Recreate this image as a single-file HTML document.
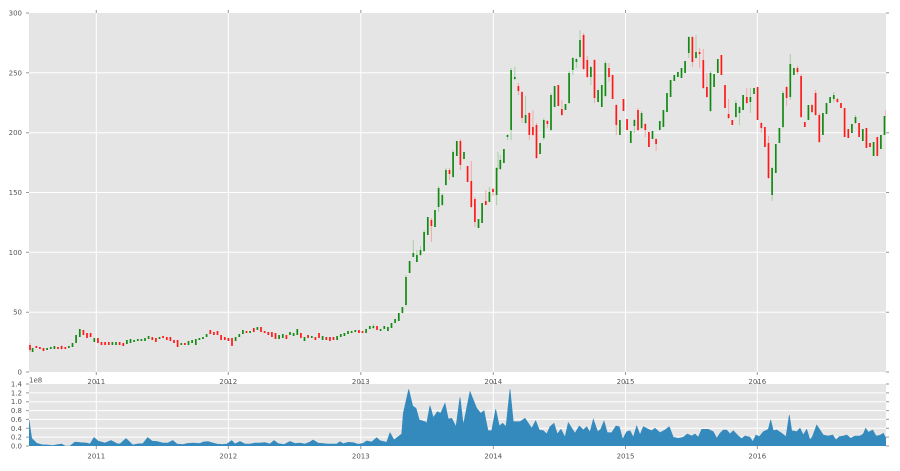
<!DOCTYPE html>
<html><head><meta charset="utf-8"><style>
html,body{margin:0;padding:0;background:#fff;}
svg{display:block;}
text{font-family:"DejaVu Sans","Liberation Sans",sans-serif;font-size:7px;fill:#555;}
</style></head><body>
<svg width="900" height="471" viewBox="0 0 900 471" xmlns="http://www.w3.org/2000/svg">
<defs>
<clipPath id="c1"><rect x="29" y="13" width="857" height="359"/></clipPath>
<clipPath id="c2"><rect x="29" y="384" width="857" height="62"/></clipPath>
</defs>
<rect x="0" y="0" width="900" height="471" fill="#fff"/>
<!-- main panel -->
<rect x="29" y="13" width="857" height="359" fill="#e5e5e5"/>
<g stroke="#fff" stroke-width="1">
<path d="M29 312.2H886M29 252.3H886M29 192.5H886M29 132.7H886M29 72.8H886"/>
<path d="M96.3 13V372M228.3 13V372M360.8 13V372M493.3 13V372M625.5 13V372M757.3 13V372"/>
</g>
<g clip-path="url(#c1)" fill="none">
<path stroke="#a6d0a6" stroke-width="1" d="M413.3 240V257M416.9 250V262M420.5 246V256M438.6 186V212M442.3 193V206M489.4 187V202M496.6 167V205M500.3 155V170M507.5 134V140M511.1 68V140M514.8 67V80M525.6 96V124M572.8 57V75M576.4 58V68M580 30V58M590.9 66V85M634.4 119V133M688.8 36V58M696 35V59M735.9 100V118M739.5 106V125M750.4 88V113M772.1 167V201M790.3 54V100M833.8 92V102M855.5 115V124M373.4 324V329M406 275V306M424.1 230V252M445.9 168V186M453.1 150V178M498 152V170M543.8 118V140M551 93V131M569.1 71V104M605.4 61V97M641.6 111V129M710.5 71V112M783 91V128"/>
<path stroke="#f5a8a8" stroke-width="1" d="M30 343V352M61.6 345V350M431.4 218V242M449.5 168V180M460.4 139V170M471.3 161V208M474.9 197V227M485.8 190V205M493 188V196M518.4 83V95M522 91V123M529.3 112V140M532.9 110V136M547.4 120V128M561.9 100V116M587.3 56V78M594.5 59V103M609 63V82M616.3 104V135M638 108V131M645.3 123V137M656.1 138V151M692.4 36V67M699.6 48V68M703.3 49V89M706.9 73V98M728.6 99V119M746.8 88V104M761.3 122V133M768.5 136V179M786.6 86V106M797.5 66V74M812 104V113M815.6 90V116M837.4 98V103M885.8 110V117M536.5 123V159M583.6 33V70M801.1 74V118M819.3 113V143"/>
<path stroke="#138a13" stroke-width="1.7" d="M32.6 348V352M47.1 348V350M50.8 347V349M54.4 346V349M68.9 346V348M72.5 343V347M76.1 335V343M79.8 329V337M94.3 338V342M112.4 342V345M116 342V345M126.9 340V344M130.5 339V343M134.1 340V342M137.8 339V341M141.4 339V341M145 338V341M148.6 336V339M159.5 337V339M181.3 343V345M188.5 341V345M192.1 340V343M195.8 339V345M199.4 338V340M203 337V339M206.6 334V337M235.6 337V341M239.3 334V337M242.9 330V334M250.1 331V333M257.4 327V330M279.1 335V339M282.8 334V338M290 332V335M293.6 333V336M297.3 329V335M304.5 337V341M311.8 336V338M322.6 336V340M337.1 336V340M340.8 334V337M344.4 333V336M348 331V334M351.6 331V333M355.3 330V332M366.1 329V333M369.8 326V329M373.4 326V328M380.6 329V331M384.3 326V329M387.9 327V331M391.5 323V328M395.1 319V323M398.8 313V321M402.4 307V313M406 277V305M409.6 261V273M413.3 253V257M416.9 255V262M420.5 250V255M424.1 232V251M427.8 217V235M435 210V227M438.6 188V207M442.3 195V205M445.9 170V185M453.1 152V177M456.8 141V156M464 152V159M478.5 219V228M482.1 203V223M489.4 192V202M496.6 168V195M500.3 160V169M503.9 149V163M507.5 135V137M511.1 70V130M514.8 77V79M525.6 115V123M540.1 143V154M543.8 120V138M551 95V130M554.6 86V107M565.5 104V110M569.1 73V103M572.8 58V70M576.4 59V62M580 40V57M590.9 67V77M598.1 90V102M601.8 85V107M605.4 63V96M619.9 120V135M630.8 131V143M634.4 120V126M641.6 113V128M652.5 131V139M659.8 121V130M663.4 110V127M667 93V112M670.6 80V97M674.3 75V81M677.9 72V77M681.5 68V78M685.1 61V73M688.8 37V53M696 52V58M710.5 73V111M714.1 74V87M717.8 59V73M735.9 103V117M739.5 107V113M743.1 95V110M750.4 97V102M754 88V94M772.1 168V195M775.8 144V173M779.4 128V143M783 93V127M790.3 64V97M793.9 68V75M808.4 105V120M822.9 113V135M826.5 103V114M830.1 97V103M833.8 95V99M851.9 124V133M855.5 117V123M862.8 129V141M873.6 142V156M880.9 135V149M884.5 116V135"/>
<path stroke="#ff1a1a" stroke-width="1.7" d="M30 345V350M36.3 346V348M39.9 347V349M43.5 348V351M58 347V349M61.6 346V349M65.3 347V349M83.4 330V335M87 333V338M90.6 333V337M97.9 338V343M101.5 342V345M105.1 342V345M108.8 342V345M119.6 342V345M123.3 343V346M152.3 337V340M155.9 338V342M163.1 336V338M166.8 337V340M170.4 337V341M174 340V343M177.6 340V347M184.9 343V345M210.3 330V334M213.9 332V335M217.5 331V335M221.1 335V340M224.8 337V340M228.4 338V341M232 338V346M246.5 331V333M253.8 328V332M261 327V332M264.6 331V333M268.3 332V335M271.9 332V337M275.5 333V339M286.4 335V339M300.9 333V338M308.1 335V338M315.4 337V340M319 333V338M326.3 337V340M329.9 337V341M333.5 337V340M358.9 330V333M362.5 331V333M377 326V330M431.4 220V226M449.5 170V174M460.4 141V165M467.6 166V182M471.3 181V207M474.9 199V222M485.8 201V205M493 189V192M518.4 86V91M522 92V118M529.3 113V135M532.9 127V135M536.5 125V158M547.4 121V124M558.3 85V106M561.9 109V115M583.6 35V69M587.3 60V77M594.5 60V98M609 68V77M612.6 75V99M616.3 105V125M623.5 99V111M627.1 119V130M638 110V130M645.3 124V130M648.9 132V147M656.1 139V144M692.4 37V62M699.6 52V54M703.3 60V88M706.9 87V97M721.4 55V75M725 85V108M728.6 114V118M732.3 120V125M746.8 97V103M757.6 87V120M761.3 123V128M764.9 127V147M768.5 143V178M786.6 87V98M797.5 68V72M801.1 76V117M804.8 122V127M812 105V112M815.6 93V115M819.3 115V142M837.4 99V102M841 103V108M844.6 108V137M848.3 129V138M859.1 123V137M866.4 128V148M870 143V147M877.3 137V156"/>
</g>
<!-- main ticks -->
<g stroke="#999" stroke-width="1">
<path d="M26 13H29M26 72.8H29M26 132.7H29M26 192.5H29M26 252.3H29M26 312.2H29M26 372H29"/>
<path d="M886 13H889M886 72.8H889M886 132.7H889M886 192.5H889M886 252.3H889M886 312.2H889M886 372H889"/>
<path d="M96.3 10V13M228.3 10V13M360.8 10V13M493.3 10V13M625.5 10V13M757.3 10V13"/>
<path d="M96.3 372V375M228.3 372V375M360.8 372V375M493.3 372V375M625.5 372V375M757.3 372V375"/>
</g>
<g text-anchor="end">
<text x="22" y="15.5">300</text>
<text x="22" y="75.3">250</text>
<text x="22" y="135.2">200</text>
<text x="22" y="195">150</text>
<text x="22" y="254.8">100</text>
<text x="22" y="314.7">50</text>
<text x="22" y="374.5">0</text>
</g>
<g text-anchor="middle">
<text x="96.3" y="384">2011</text>
<text x="228.3" y="384">2012</text>
<text x="360.8" y="384">2013</text>
<text x="493.3" y="384">2014</text>
<text x="625.5" y="384">2015</text>
<text x="757.3" y="384">2016</text>
</g>
<text x="29" y="382.5">1e8</text>
<!-- volume panel -->
<rect x="29" y="384" width="857" height="62" fill="#e5e5e5"/>
<g stroke="#fff" stroke-width="1">
<path d="M29 437.1H886M29 428.3H886M29 419.4H886M29 410.6H886M29 401.7H886M29 392.9H886"/>
<path d="M96.3 384V446M228.3 384V446M360.8 384V446M493.3 384V446M625.5 384V446M757.3 384V446"/>
</g>
<path clip-path="url(#c2)" fill="#348abd" stroke="#348abd" stroke-width="0.6" d="M29 446L29 420L31.7 438.3L36.7 443.3L42 444.8L48 445L53 445.5L58 444.5L61.7 444L65 446L70 446L75 442L80 442.5L86.7 443L90 444L94 437.5L98 441L105 443L111 440.5L116.7 443.5L120 444L126 438.5L132.7 445L137 444L143 443.5L147.7 437.5L152 441L157 441.5L163 443L168 443L172.7 440.5L177 444L183 444.5L187 443.5L193 443L200 443.5L203 442L208 441.5L213 443L217 444L222 444.5L227 444L231.7 440.5L235 444L240 441.5L245 444L250 444L255 443L260 443L265 442.5L270 444L274 440.5L278 443.5L284 444.5L290 441.5L295 443.5L300 443L305 444L310 442L313 440L318 443L323 443.5L328 444L330 444L336.7 444L340 441.7L343.3 443.7L348.3 442.3L353.3 442.7L358.3 444.3L363.3 443.3L366.7 441L371.7 442L376.7 437.7L380 440.7L386.7 442.3L390 432.7L394 440L401.7 434L403.3 413.3L408.7 389.3L412.7 406L416 408.3L419.3 420L425 421.7L426.7 423.3L430 405.7L433.3 417.7L437.3 411.7L440.7 413.3L445 403.3L448.3 419L451.7 418.3L456 426.7L460 397.3L463.3 425L470 391.7L476.7 408.3L480.7 413.3L484 410.7L488 430.7L491.7 430.7L495.7 409.3L499.3 426L502.7 423.3L506 426.7L510 389.3L513.3 421.7L520 421.7L525 418.3L531.7 428.3L535.7 420.7L539.3 430L543.3 430.7L546.7 434L550 426.7L554 423.3L557.3 434L561 429.3L565 437.3L568.3 422.7L575 433.3L579.3 426L583.3 430L586.7 426.7L590 432.3L593.3 419.3L597.7 431.7L600.7 429.3L604 421L607.3 432.7L611.7 432.7L616 426L619.3 426.7L622.7 439.3L626.7 431.7L630 430.7L633.3 437.3L636.7 426L640 435L643.3 426.7L648.3 429.3L651.7 430.7L655 428.3L660 432.7L665 430L669.3 426.7L673.3 437.3L678.3 438.3L683.3 437.3L687.3 434L691.7 436L695 434L698.3 437.3L701.7 429.3L703.3 429.3L708.3 429.3L713.3 431.7L716.7 438.3L720 433.3L723.3 430L726.7 430L730 434L733.3 430.7L738.3 436L741.7 438.7L745 436L750 437.3L752.7 441.7L756 435L759.3 436.7L763.3 431.7L768.3 429.3L770.7 420L773.3 430.7L776.7 430L781.7 433.3L786 436.7L789.3 415L791.7 430.7L796.7 431.7L800 428.3L803.3 435L806.7 429.3L810 440L812.7 436L816.7 425L820 430L823.3 435L828.3 436L832.7 435L836 440L839.3 436.7L843.3 436L846.7 435L850.7 438.3L855 436L860 436L863.3 434L865.7 428.3L868.3 432.3L872.7 430L876 436L880 435.3L883.3 433.3L886 438.3L886 446Z"/>
<g stroke="#999" stroke-width="1">
<path d="M26 446H29M26 437.1H29M26 428.3H29M26 419.4H29M26 410.6H29M26 401.7H29M26 392.9H29M26 384H29"/>
<path d="M886 446H889M886 437.1H889M886 428.3H889M886 419.4H889M886 410.6H889M886 401.7H889M886 392.9H889M886 384H889"/>
<path d="M96.3 446V449M228.3 446V449M360.8 446V449M493.3 446V449M625.5 446V449M757.3 446V449"/>
<path d="M96.3 381V384M228.3 381V384M360.8 381V384M493.3 381V384M625.5 381V384M757.3 381V384"/>
</g>
<g text-anchor="end">
<text x="22" y="448.5">0.0</text>
<text x="22" y="439.6">0.2</text>
<text x="22" y="430.8">0.4</text>
<text x="22" y="421.9">0.6</text>
<text x="22" y="413.1">0.8</text>
<text x="22" y="404.2">1.0</text>
<text x="22" y="395.4">1.2</text>
<text x="22" y="386.5">1.4</text>
</g>
<g text-anchor="middle">
<text x="96.3" y="458.5">2011</text>
<text x="228.3" y="458.5">2012</text>
<text x="360.8" y="458.5">2013</text>
<text x="493.3" y="458.5">2014</text>
<text x="625.5" y="458.5">2015</text>
<text x="757.3" y="458.5">2016</text>
</g>
</svg>
</body></html>
